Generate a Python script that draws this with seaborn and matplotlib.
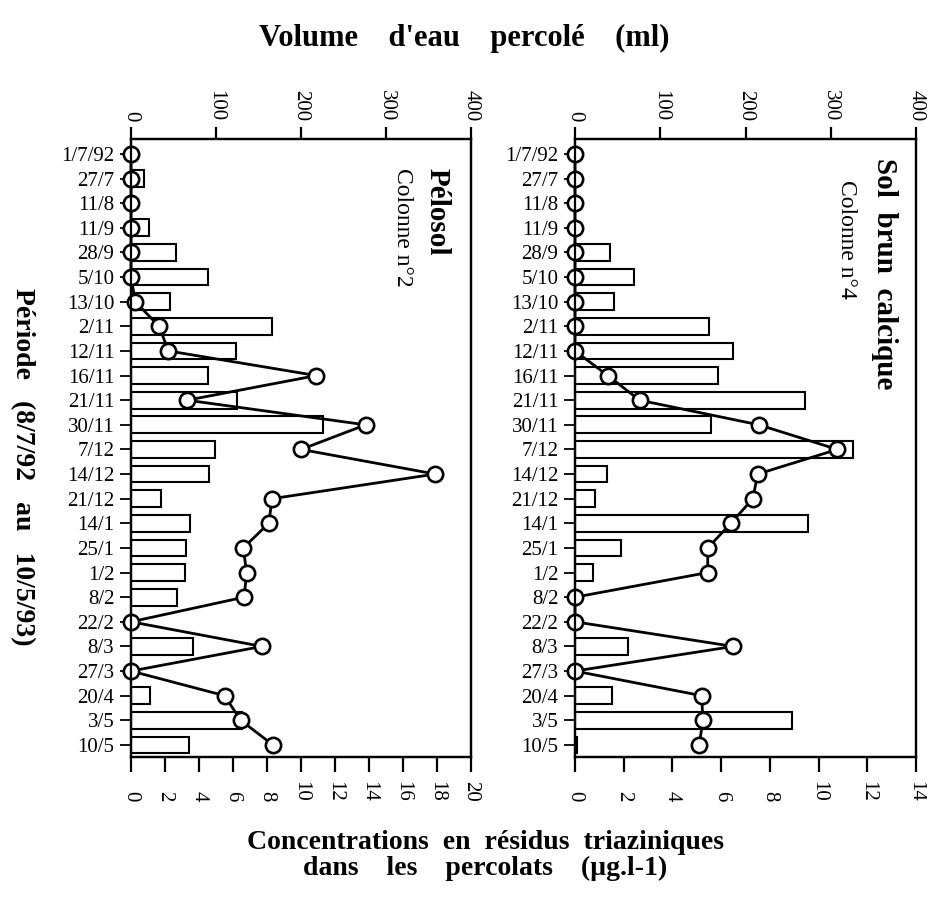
import matplotlib
matplotlib.use("Agg")
import matplotlib.pyplot as plt
import seaborn as sns
import pandas as pd

# Sampling dates (8/7/92 - 10/5/93)
dates = ["1/7/92", "27/7", "11/8", "11/9", "28/9", "5/10", "13/10", "2/11",
         "12/11", "16/11", "21/11", "30/11", "7/12", "14/12", "21/12", "14/1",
         "25/1", "1/2", "8/2", "22/2", "8/3", "27/3", "20/4", "3/5", "10/5"]

# Pélosol - colonne n°2
vol_pelosol = [0, 15, 0, 21, 53, 90, 46, 166, 124, 91, 125, 226, 99, 92, 35,
               69, 65, 64, 54, 0, 73, 0, 22, 130, 68]
conc_pelosol = [0, 0, 0, 0, 0, 0, 0.25, 1.65, 2.2, 10.9, 3.3, 13.8, 10.0, 17.9,
                8.3, 8.1, 6.6, 6.8, 6.65, 0, 7.7, 0, 5.5, 6.45, 8.35]

# Sol brun calcique - colonne n°4
vol_calcique = [0, 0, 0, 0, 41, 69, 46, 157, 185, 168, 270, 160, 326, 37, 23.5,
                273, 54, 21, 0, 0, 62, 0, 43, 254, 2]
conc_calcique = [0, 0, 0, 0, 0, 0, 0, 0, 0, 1.35, 2.65, 7.55, 10.77, 7.5, 7.3,
                 6.4, 5.45, 5.45, 0, 0, 6.5, 0, 5.2, 5.25, 5.1]

vol_ticks = [0, 100, 200, 300, 400]

sns.set_style("ticks")
plt.rcParams["font.family"] = ["Liberation Serif", "DejaVu Serif"]
plt.rcParams.update({
    "axes.linewidth": 1.6,
    "axes.edgecolor": "black",
    "axes.labelcolor": "black",
    "text.color": "black",
    "xtick.color": "black",
    "ytick.color": "black",
})

SERIF = ["Liberation Serif", "DejaVu Serif"]
LBL = 15

fig = plt.figure(figsize=(9.28, 8.97), dpi=100)


def panel(rect, vols, concs, cmax, title, subtitle, title_pos, sub_pos):
    ax = fig.add_axes(rect)
    df = pd.DataFrame({"date": dates, "vol": vols, "conc": concs})

    # volume bars (top axis)
    sns.barplot(data=df, x="vol", y="date", orient="h", color="white",
                saturation=1, edgecolor="black", linewidth=1.5, width=0.68,
                errorbar=None, ax=ax)
    ax.set_xlabel("")
    ax.set_ylabel("")

    # concentrations (bottom axis)
    tw = ax.twiny()
    sns.pointplot(data=df, x="conc", y="date", orient="h", color="black",
                  markers="o", linewidth=2.0, markersize=11,
                  markerfacecolor="white", markeredgecolor="black",
                  markeredgewidth=1.9, errorbar=None, clip_on=False, ax=tw)
    tw.set_xlim(0, cmax)
    tw.set_xticks(list(range(0, cmax + 1, 2)))
    tw.xaxis.tick_bottom()
    tw.tick_params(axis="x", which="major", direction="out", length=11,
                   width=1.6, pad=21, labelsize=LBL, labelrotation=-90)
    for t in tw.get_xticklabels():
        t.set_va("bottom")
    tw.set_xlabel("")
    tw.set_ylabel("")

    # volume axis on top (after twiny, which resets it to the bottom)
    ax.set_xlim(0, 400)
    ax.set_xticks(vol_ticks)
    ax.xaxis.tick_top()
    ax.tick_params(axis="x", which="major", direction="out", length=9,
                   width=1.6, pad=4, labelsize=LBL, labelrotation=-90)
    ax.tick_params(axis="y", which="major", direction="out", length=8,
                   width=1.3, pad=4, labelsize=LBL)
    ax.set_ylim(24.49, -0.61)

    for a in (ax, tw):
        for s in a.spines.values():
            s.set_visible(True)
            s.set_linewidth(1.6)
            s.set_color("black")

    tw.text(title_pos[0], title_pos[1], title, transform=ax.transAxes,
            rotation=-90, ha="center", va="top", fontsize=21,
            fontweight="bold", family=SERIF)
    tw.text(sub_pos[0], sub_pos[1], subtitle, transform=ax.transAxes,
            rotation=-90, ha="center", va="top", fontsize=17, family=SERIF)
    return ax


panel([0.1412, 0.1561, 0.3664, 0.689], vol_pelosol, conc_pelosol, 20,
      "Pélosol", "Colonne n°2", (0.90, 0.953), (0.797, 0.953))
panel([0.6196, 0.1561, 0.3675, 0.689], vol_calcique, conc_calcique, 14,
      "Sol  brun  calcique", "Colonne n°4", (0.909, 0.969), (0.795, 0.934))

fig.text(0.500, 0.957, "Volume    d'eau    percolé    (ml)", ha="center",
         va="center", fontsize=22, fontweight="bold", family=SERIF)
fig.text(0.024, 0.480, "Période   (8/7/92   au   10/5/93)", ha="center",
         va="center", rotation=-90, fontsize=20, fontweight="bold",
         family=SERIF)
fig.text(0.523, 0.046, "Concentrations  en  résidus  triaziniques\n"
         "dans    les    percolats    (µg.l-1)", ha="center", va="center",
         fontsize=20, fontweight="bold", family=SERIF, linespacing=1.05)

fig.savefig("out.png", dpi=100)
